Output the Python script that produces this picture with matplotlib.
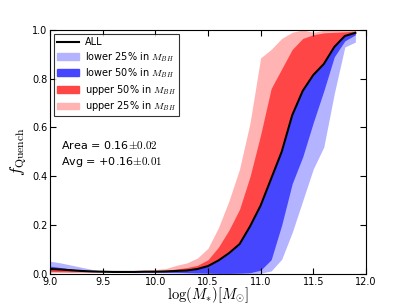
import matplotlib
matplotlib.use('Agg')
import matplotlib.pyplot as plt
from matplotlib.patches import Patch
from matplotlib.lines import Line2D

plt.rcParams['mathtext.fontset'] = 'cm'

# stellar mass bins
logm = [9.0, 9.1, 9.2, 9.3, 9.4, 9.5, 9.6, 9.7, 9.8, 9.9,
        10.0, 10.1, 10.2, 10.3, 10.4, 10.5, 10.6, 10.7, 10.8, 10.9,
        11.0, 11.1, 11.2, 11.3, 11.4, 11.5, 11.6, 11.7, 11.8, 11.9]

f_all = [0.020, 0.018, 0.015, 0.012, 0.010, 0.009, 0.008, 0.008, 0.008, 0.009,
         0.009, 0.010, 0.012, 0.014, 0.020, 0.032, 0.055, 0.085, 0.122, 0.195,
         0.280, 0.390, 0.500, 0.650, 0.750, 0.815, 0.860, 0.930, 0.975, 0.988]

f_low50 = [0.032, 0.026, 0.020, 0.015, 0.011, 0.009, 0.008, 0.007, 0.007, 0.007,
           0.007, 0.007, 0.006, 0.005, 0.004, 0.003, 0.002, 0.002, 0.003, 0.005,
           0.015, 0.058, 0.200, 0.370, 0.480, 0.620, 0.750, 0.890, 0.955, 0.980]

f_low25 = [0.052, 0.045, 0.036, 0.027, 0.018, 0.011, 0.008, 0.006, 0.005, 0.005,
           0.005, 0.004, 0.003, 0.002, 0.001, 0.001, 0.0, 0.0, 0.0, 0.0,
           0.003, 0.012, 0.060, 0.170, 0.300, 0.430, 0.520, 0.740, 0.930, 0.950]

f_up50 = [0.010, 0.009, 0.008, 0.008, 0.008, 0.008, 0.009, 0.010, 0.011, 0.012,
          0.013, 0.015, 0.020, 0.026, 0.035, 0.058, 0.110, 0.180, 0.265, 0.400,
          0.570, 0.760, 0.840, 0.920, 0.965, 0.980, 0.988, 0.990, 0.992, 0.995]

f_up25 = [0.006, 0.006, 0.007, 0.008, 0.009, 0.010, 0.011, 0.012, 0.014, 0.016,
          0.018, 0.022, 0.035, 0.045, 0.065, 0.105, 0.190, 0.300, 0.430, 0.620,
          0.885, 0.920, 0.965, 0.990, 1.000, 0.990, 0.998, 0.998, 0.998, 0.998]

c_lb = '#b3b3ff'
c_db = '#4646ff'
c_dr = '#ff4646'
c_lr = '#ffb3b3'

fig = plt.figure(figsize=(4.07, 3.05), dpi=100)
ax = fig.add_axes([0.123, 0.102, 0.776, 0.8])

ax.fill_between(logm, f_all, f_low25, color=c_lb, lw=0)
ax.fill_between(logm, f_all, f_up25, color=c_lr, lw=0)
ax.fill_between(logm, f_all, f_low50, color=c_db, lw=0)
ax.fill_between(logm, f_all, f_up50, color=c_dr, lw=0)
ax.plot(logm, f_all, color='k', lw=1.5)

ax.set_xlim(9.0, 12.0)
ax.set_ylim(0.0, 1.0)
ax.set_xticks([9.0, 9.5, 10.0, 10.5, 11.0, 11.5, 12.0])
ax.set_yticks([0.0, 0.2, 0.4, 0.6, 0.8, 1.0])
ax.set_xticklabels(['9.0', '9.5', '10.0', '10.5', '11.0', '11.5', '12.0'])
ax.set_yticklabels(['0.0', '0.2', '0.4', '0.6', '0.8', '1.0'])
ax.tick_params(direction='in', top=True, right=True, length=4, labelsize=7, pad=2)

ax.set_xlabel(r'$\log(M_{*})[M_{\odot}]$', fontsize=10.5, labelpad=-1)
ax.set_ylabel(r'$f_{\rm Quench}$', fontsize=12, labelpad=2)

handles = [Line2D([], [], color='k', lw=1.5),
           Patch(color=c_lb), Patch(color=c_db), Patch(color=c_dr), Patch(color=c_lr)]
labels = ['ALL', r'lower 25% in $M_{BH}$', r'lower 50% in $M_{BH}$',
          r'upper 50% in $M_{BH}$', r'upper 25% in $M_{BH}$']
leg = ax.legend(handles, labels, loc='upper left', fontsize=7, fancybox=False,
                frameon=True, borderaxespad=0.45, handlelength=2.2, labelspacing=0.28,
                borderpad=0.3, handletextpad=0.6)
leg.get_frame().set_edgecolor('k')
leg.get_frame().set_linewidth(0.8)

ax.text(9.1, 0.51, r'Area = 0.16$\pm0.02$', fontsize=8)
ax.text(9.1, 0.445, r'Avg = +0.16$\pm0.01$', fontsize=8)

fig.savefig('out.png', dpi=100)
